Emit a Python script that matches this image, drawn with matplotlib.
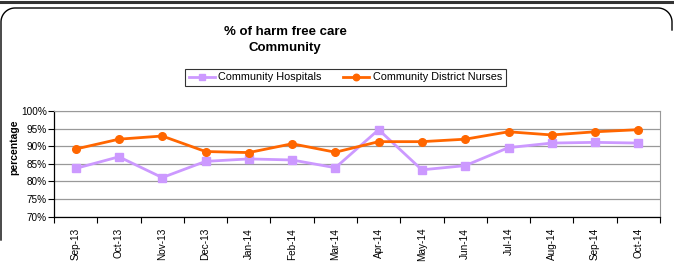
import numpy as np
import matplotlib
matplotlib.use("Agg")
import matplotlib.pyplot as plt
from matplotlib.lines import Line2D

plt.rcParams['font.family'] = ['Liberation Sans', 'DejaVu Sans']

months = ['Sep-13', 'Oct-13', 'Nov-13', 'Dec-13', 'Jan-14', 'Feb-14', 'Mar-14',
          'Apr-14', 'May-14', 'Jun-14', 'Jul-14', 'Aug-14', 'Sep-14', 'Oct-14']
hospitals = [83.7, 87.0, 81.1, 85.7, 86.4, 86.1, 83.9,
             94.7, 83.3, 84.5, 89.6, 90.9, 91.1, 90.9]
district_nurses = [89.2, 92.0, 92.9, 88.5, 88.2, 90.7, 88.3,
                   91.3, 91.3, 92.0, 94.1, 93.2, 94.1, 94.7]
yticks = [70, 75, 80, 85, 90, 95, 100]

W, H = 674, 268
fig = plt.figure(figsize=(W / 100, H / 100), dpi=100)

def px(x, y):
    return x / W, 1 - y / H

# outer decoration: top rule and rounded frame
fig.add_artist(Line2D([0, 1], [1 - 1.5 / H] * 2, color='#333333', lw=2.2))
r = 14
t = np.linspace(0, np.pi / 2, 20)
xs = [1] + [1 + r - r * np.sin(a) for a in t[::-1]] + [672 - r + r * np.sin(a) for a in t] + [672]
ys = [240] + [8 + r - r * np.cos(a) for a in t[::-1]] + [8 + r - r * np.cos(a) for a in t] + [30]
fig.add_artist(Line2D([x / W for x in xs], [1 - y / H for y in ys], color='black', lw=1.0))

left, right = px(54, 0)[0], px(660, 0)[0]
bottom, top = px(0, 216.7)[1], px(0, 111)[1]
ax = fig.add_axes([left, bottom, right - left, top - bottom])

x = np.arange(len(months))
ax.plot(x, hospitals, color='#CC99FF', lw=2.0, marker='s', ms=5.5, label='Community Hospitals')
ax.plot(x, district_nurses, color='#FF6600', lw=2.0, marker='o', ms=5.5, label='Community District Nurses')

ax.set_xlim(-0.5, len(months) - 0.5)
ax.set_ylim(70, 100)
ax.set_yticks(yticks)
ax.set_yticklabels([f'{v}%' for v in yticks], fontsize=7.2)
ax.yaxis.grid(True, color='#999999', lw=0.9)
ax.set_axisbelow(True)
ax.tick_params(axis='y', direction='out', length=4, width=0.8, pad=1)

ax.set_xticks(x)
ax.set_xticklabels(months, rotation=90, fontsize=7.2)
ax.tick_params(axis='x', which='major', length=0, pad=8)
ax.set_xticks(np.arange(len(months) + 1) - 0.5, minor=True)
ax.tick_params(axis='x', which='minor', direction='out', length=4, width=0.8)

for s in ['top', 'right']:
    ax.spines[s].set_color('#999999')
for s in ['left', 'bottom']:
    ax.spines[s].set_color('black')
    ax.spines[s].set_linewidth(0.9)

fig.text(14 / W, 1 - 147 / H, 'percentage', rotation=90, ha='center', va='center',
         fontsize=7.5, fontweight='bold')
fig.text(285 / W, 1 - 32 / H, '% of harm free care', ha='center', va='center',
         fontsize=9.5, fontweight='bold')
fig.text(285 / W, 1 - 48 / H, 'Community', ha='center', va='center',
         fontsize=9.5, fontweight='bold')

leg = fig.legend(loc='center', bbox_to_anchor=(345.5 / W, 1 - 77.5 / H), ncol=2,
                 fontsize=7.8, frameon=True, fancybox=False, edgecolor='black',
                 handlelength=2.4, handletextpad=0.35, columnspacing=2.0,
                 borderpad=0.35, borderaxespad=0, markerscale=0.85)
leg.get_frame().set_linewidth(0.8)

fig.savefig('out.png', dpi=100)
